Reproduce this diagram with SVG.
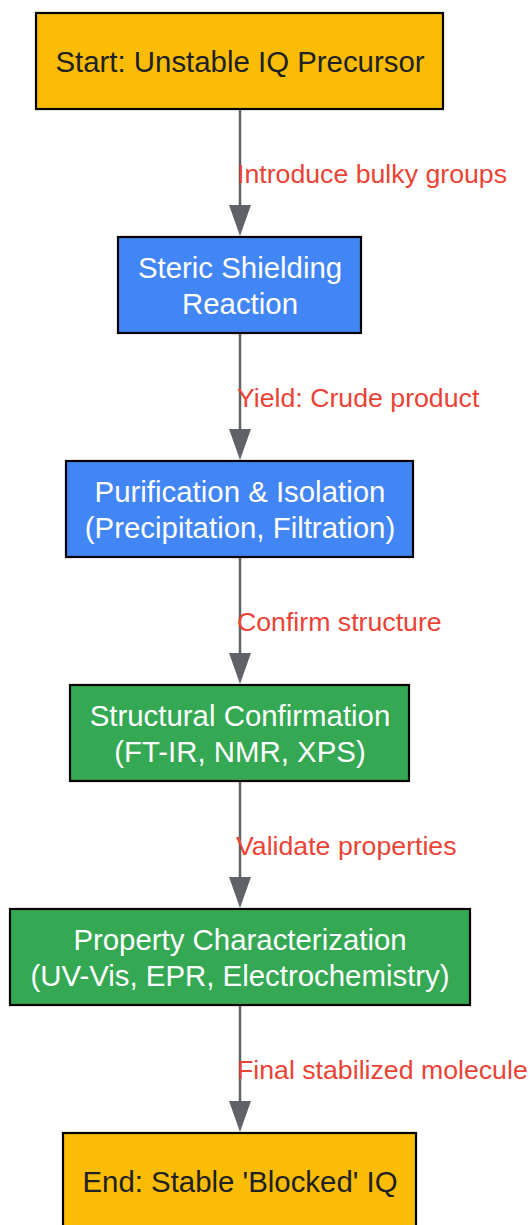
<svg xmlns="http://www.w3.org/2000/svg" width="530" height="1225" viewBox="0 0 530 1225">
<style>
.box{stroke:#000;stroke-width:2.2}
.y{fill:#FBBC05}.b{fill:#4285F4}.g{fill:#34A853}
.t{font-family:"Liberation Sans",Arial,sans-serif;font-size:29.4px;text-anchor:middle}
.dk{fill:#202124}.wt{fill:#fff}
.lbl{font-family:"Liberation Sans",Arial,sans-serif;font-size:26.7px;fill:#EA4335}
.edge{stroke:#5f6368;stroke-width:2.5;fill:none}
.head{fill:#5f6368}
</style>
<rect width="530" height="1225" fill="#fff"/>
<g id="connectors">
<line class="edge" x1="240" y1="110" x2="240" y2="206"/>
<path class="head" d="M229,205L251,205L240,236z"/>
<line class="edge" x1="240" y1="334" x2="240" y2="430"/>
<path class="head" d="M229,429L251,429L240,460z"/>
<line class="edge" x1="240" y1="558" x2="240" y2="654"/>
<path class="head" d="M229,653L251,653L240,684z"/>
<line class="edge" x1="240" y1="782" x2="240" y2="878"/>
<path class="head" d="M229,877L251,877L240,908z"/>
<line class="edge" x1="240" y1="1006" x2="240" y2="1102"/>
<path class="head" d="M229,1101L251,1101L240,1132z"/>
<text class="lbl" x="237" y="183">Introduce bulky groups</text>
<text class="lbl" x="237" y="407">Yield: Crude product</text>
<text class="lbl" x="237" y="631">Confirm structure</text>
<text class="lbl" x="236" y="855">Validate properties</text>
<text class="lbl" x="237" y="1079">Final stabilized molecule</text>
</g>
<g id="start">
<rect class="box y" x="36" y="13" width="407" height="96"/>
<text class="t dk" x="240" y="71.5">Start: Unstable IQ Precursor</text>
</g>
<g id="steric">
<rect class="box b" x="118" y="237" width="243" height="96"/>
<text class="t wt" x="240" y="277.5">Steric Shielding</text>
<text class="t wt" x="240" y="313.5">Reaction</text>
</g>
<g id="purify">
<rect class="box b" x="66" y="461" width="347" height="96"/>
<text class="t wt" x="240" y="501.5">Purification &amp; Isolation</text>
<text class="t wt" x="240" y="537.5">(Precipitation, Filtration)</text>
</g>
<g id="structural">
<rect class="box g" x="70" y="685" width="339" height="96"/>
<text class="t wt" x="240" y="725.5">Structural Confirmation</text>
<text class="t wt" x="240" y="761.5">(FT-IR, NMR, XPS)</text>
</g>
<g id="property">
<rect class="box g" x="10" y="909" width="460" height="96"/>
<text class="t wt" x="240" y="949.5">Property Characterization</text>
<text class="t wt" x="240" y="985.5">(UV-Vis, EPR, Electrochemistry)</text>
</g>
<g id="end">
<rect class="box y" x="63" y="1133" width="353" height="96"/>
<text class="t dk" x="240" y="1191.5">End: Stable 'Blocked' IQ</text>
</g>
</svg>
